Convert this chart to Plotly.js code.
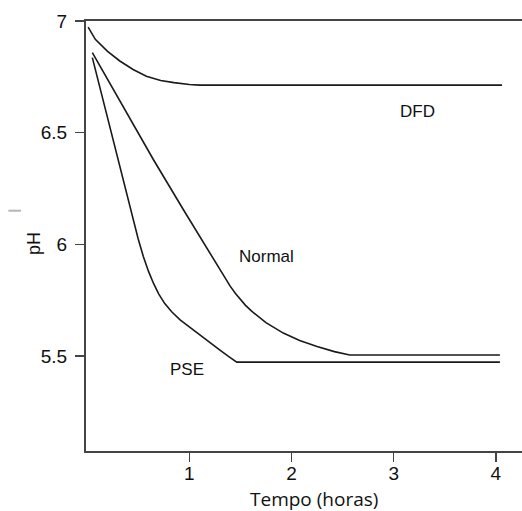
<!DOCTYPE html>
<html>
<head>
<meta charset="utf-8">
<script src="https://cdn.plot.ly/plotly-3.0.1.min.js"></script>
<style>
html,body{margin:0;padding:0;background:#fff;overflow:hidden;}
#chart{width:522px;height:511px;}
</style>
</head>
<body>
<div id="chart"></div>
<script>
// Data
const dfdX = [0.01, 0.08, 0.2, 0.32, 0.45, 0.58, 0.72, 0.85, 1.0, 1.1, 4.06];
const dfdY = [6.973, 6.918, 6.864, 6.821, 6.783, 6.753, 6.734, 6.724, 6.716, 6.713, 6.713];

const normalX = [0.051, 0.35, 0.648, 0.941, 1.15, 1.25, 1.30, 1.35, 1.40, 1.45, 1.50, 1.55, 1.61, 1.75, 1.92, 2.08, 2.25, 2.42, 2.57, 4.04];
const normalY = [6.858, 6.62, 6.38, 6.156, 5.998, 5.925, 5.886, 5.848, 5.813, 5.781, 5.752, 5.727, 5.701, 5.65, 5.603, 5.57, 5.543, 5.52, 5.505, 5.505];

const pseX = [0.051, 0.2, 0.403, 0.45, 0.50, 0.55, 0.60, 0.65, 0.70, 0.76, 0.83, 0.91, 1.00, 1.10, 1.20, 1.30, 1.38, 1.464, 4.04];
const pseY = [6.836, 6.566, 6.200, 6.114, 6.024, 5.946, 5.880, 5.825, 5.778, 5.735, 5.697, 5.662, 5.630, 5.595, 5.560, 5.527, 5.500, 5.473, 5.473];

const seriesNames = ["DFD", "Normal", "PSE"];
const labelX = [3.238, 1.755, 0.975];
const labelY = [6.595, 5.947, 5.438];

const xTicks = [1, 2, 3, 4];
const yTicks = [5.5, 6, 6.5, 7];
const yTickText = ["5.5", "6", "6.5", "7"];

const xTitle = "Tempo (horas)";
const yTitle = "pH";

const lineStyle = {color: "#1a1a1a", width: 1.6};
const traces = [
  {x: dfdX, y: dfdY, name: seriesNames[0], mode: "lines", line: lineStyle},
  {x: normalX, y: normalY, name: seriesNames[1], mode: "lines", line: lineStyle},
  {x: pseX, y: pseY, name: seriesNames[2], mode: "lines", line: lineStyle}
];

const fontFam = "Liberation Sans, Arial, sans-serif";
const annotations = seriesNames.map((n, i) => ({
  x: labelX[i], y: labelY[i], xref: "x", yref: "y", text: n, showarrow: false,
  font: {family: fontFam, size: 17, color: "#111"}, xanchor: "center", yanchor: "middle"
}));
annotations.push({
  x: 0.523, y: -0.112, xref: "paper", yref: "paper", text: xTitle, showarrow: false,
  font: {family: "Open Sans, sans-serif", size: 19, color: "#111"}, xanchor: "center", yanchor: "middle"
});
annotations.push({
  x: -0.121, y: 0.482, xref: "paper", yref: "paper", text: yTitle, showarrow: false, textangle: -90,
  font: {family: fontFam, size: 18, color: "#111"}, xanchor: "center", yanchor: "middle"
});

const layout = {
  width: 522, height: 511,
  margin: {l: 86, r: 0, t: 21, b: 60},
  paper_bgcolor: "#fff", plot_bgcolor: "#fff",
  showlegend: false,
  font: {family: fontFam, size: 18, color: "#111"},
  xaxis: {
    range: [-0.011, 4.256], tickvals: xTicks, ticktext: xTicks.map(String),
    showgrid: false, zeroline: false, showline: true, linecolor: "#444", linewidth: 2,
    mirror: true, ticks: "outside", ticklen: 9, tickwidth: 1.5, tickcolor: "#444",
    tickfont: {family: fontFam, size: 19, color: "#111"}, ticklabelstandoff: -5
  },
  yaxis: {
    range: [5.075, 7.0], tickvals: yTicks, ticktext: yTickText,
    showgrid: false, zeroline: false, showline: true, linecolor: "#444", linewidth: 2,
    ticks: "outside", ticklen: 9, tickwidth: 1.5, tickcolor: "#444",
    tickfont: {family: fontFam, size: 19, color: "#111"}, ticklabelstandoff: 4
  },
  annotations: annotations,
  shapes: [{
    type: "line", xref: "paper", yref: "paper",
    x0: -0.178, x1: -0.149, y0: 0.5588, y1: 0.5588,
    line: {color: "#b5b5b5", width: 2}
  }]
};

Plotly.newPlot("chart", traces, layout, {displayModeBar: false, staticPlot: true});
</script>
</body>
</html>
